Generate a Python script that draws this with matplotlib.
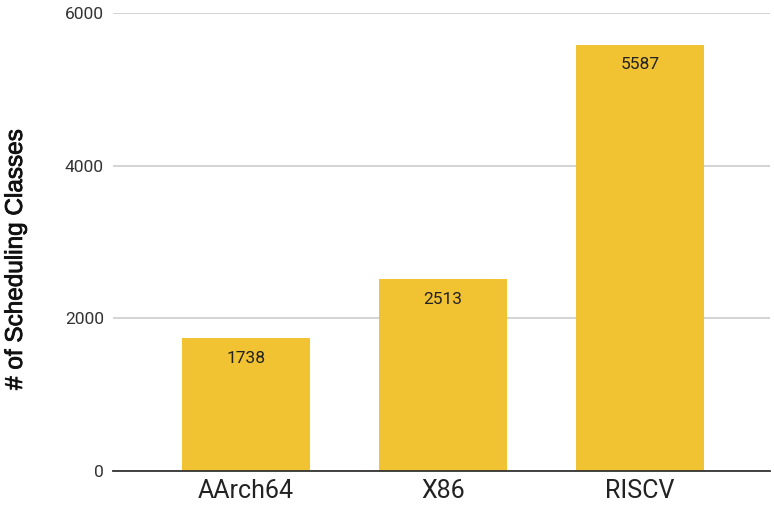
import matplotlib.pyplot as plt
import matplotlib.patheffects as pe

plt.rcParams['font.family'] = ['Roboto', 'DejaVu Sans']

archs = ['AArch64', 'X86', 'RISCV']
counts = [1738, 2513, 5587]
yticks = [0, 2000, 4000, 6000]

fig = plt.figure(figsize=(7.74, 5.16), dpi=100)
ax = fig.add_axes([113 / 774, 45 / 516, 657 / 774, 458 / 516])

x = list(range(len(archs)))
bars = ax.bar(x, counts, width=0.645, color='#f1c232', zorder=2)
for xi, c in zip(x, counts):
    ax.annotate(str(c), (xi, c), xytext=(0, -9), textcoords='offset points',
                ha='center', va='top', fontsize=12.5, color='#222222', zorder=3)

ax.set_xlim(-0.675, 2.66)
ax.set_ylim(0, 6000)
ax.set_yticks(yticks)
ax.set_yticklabels([str(t) for t in yticks], fontsize=12.5, color='#333333')
ax.set_xticks(x)
ax.set_xticklabels(archs, fontsize=18, color='#222222')
ax.yaxis.grid(True, color='#cccccc', linewidth=1.2, zorder=0)
ax.tick_params(axis='both', length=0)
ax.tick_params(axis='y', pad=6.5)
ax.tick_params(axis='x', pad=6)
for s in ['top', 'right', 'left']:
    ax.spines[s].set_visible(False)
ax.spines['bottom'].set_color('#333333')
ax.spines['bottom'].set_linewidth(1.3)
ax.spines['bottom'].set_zorder(3)

ylab = ax.set_ylabel('# of Scheduling Classes', fontsize=17.5, family='Liberation Sans',
                     color='#111111')
ylab.set_path_effects([pe.withStroke(linewidth=0.6, foreground='#111111')])
ax.yaxis.set_label_coords(-0.131, 0.461)

fig.savefig('out.png', dpi=100)
